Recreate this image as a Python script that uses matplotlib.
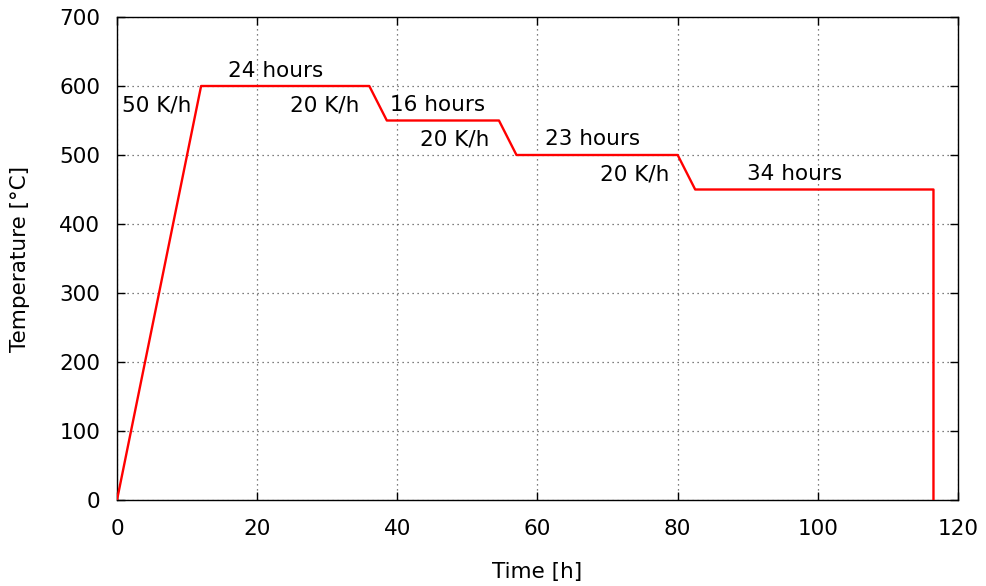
import matplotlib.pyplot as plt

# annealing schedule: (time [h], temperature [°C]) corner points
time = [0, 12, 36, 38.5, 54.5, 57, 80, 82.5, 116.5, 116.5]
temp = [0, 600, 600, 550, 550, 500, 500, 450, 450, 0]

# step annotations
label_text = ["50 K/h", "24 hours", "20 K/h", "16 hours", "20 K/h", "23 hours", "20 K/h", "34 hours"]
label_x = [5.7, 22.7, 29.7, 45.8, 48.2, 67.8, 73.8, 96.7]
label_y = [572, 622, 572, 572, 523, 523, 472, 472]

plt.rcParams["font.family"] = ["DejaVu Sans"]
plt.rcParams["font.size"] = 15.5

fig = plt.figure(figsize=(9.87, 5.86), dpi=100)
ax = fig.add_axes([117 / 987, 86 / 586, 841 / 987, 483 / 586])

ax.plot(time, temp, color="red", lw=1.7, zorder=3)

for txt, x, y in zip(label_text, label_x, label_y):
    ax.text(x, y, txt, ha="center", va="center")

ax.set_xlim(0, 120)
ax.set_ylim(0, 700)
ax.set_xticks(range(0, 121, 20))
ax.set_yticks(range(0, 701, 100))
ax.grid(True, color="#555555", linestyle=(0, (1, 3)), lw=0.9)
ax.tick_params(direction="in", top=True, right=True, length=6, width=1)
ax.tick_params(axis="x", pad=14)
ax.tick_params(axis="y", pad=12)
for s in ax.spines.values():
    s.set_linewidth(1)

ax.set_xlabel("Time [h]", va="center")
ax.set_ylabel("Temperature [°C]", va="center")
ax.xaxis.set_label_coords(0.5, -0.149)
ax.yaxis.set_label_coords(-0.115, 0.5)

fig.savefig("out.png", dpi=100)
